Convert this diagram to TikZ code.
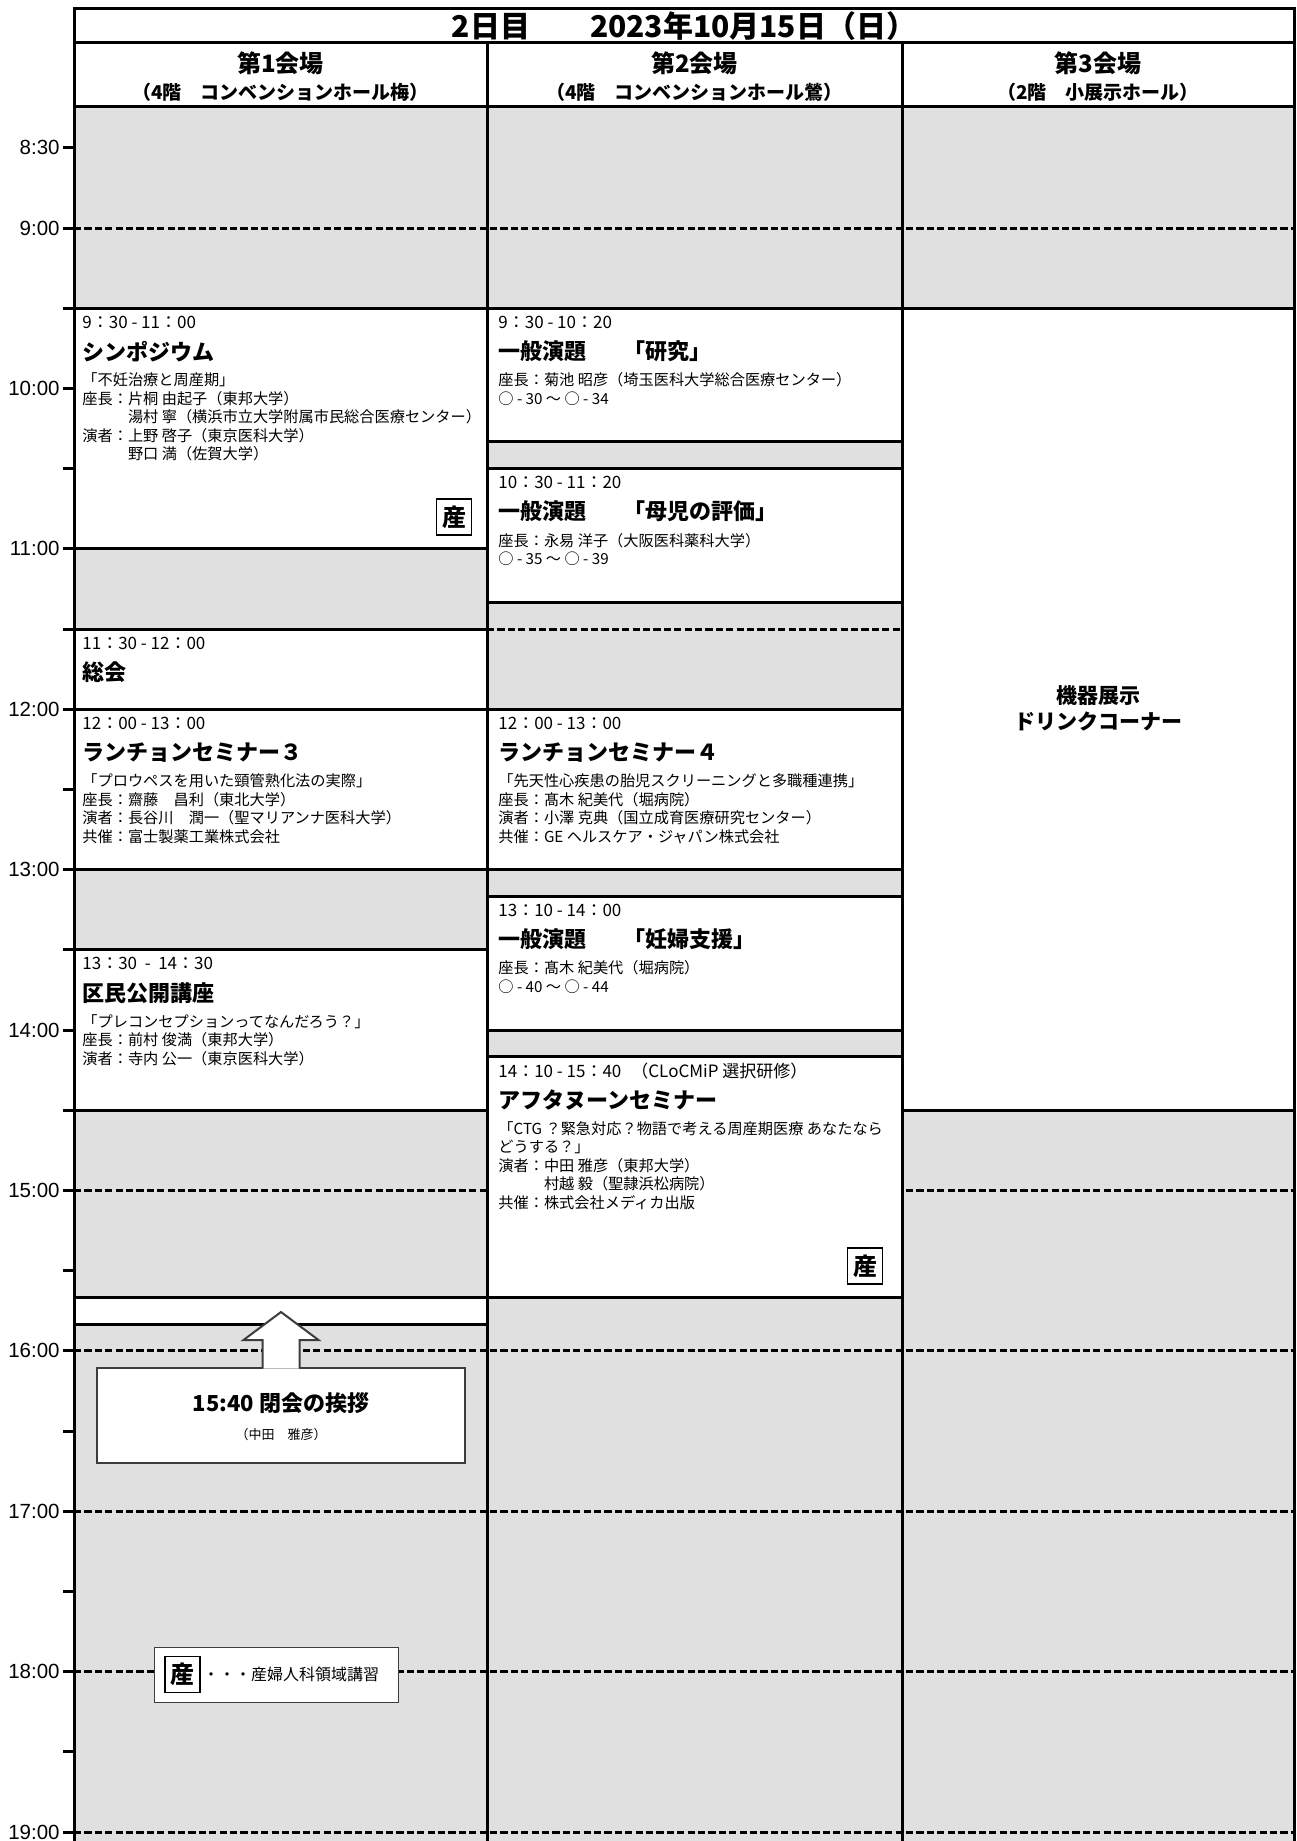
\documentclass[tikz,border=0pt]{standalone}
\usepackage{fontspec}
\setmainfont{Noto Sans CJK JP}
\newfontfamily\achsenfont{Liberation Sans}
\usetikzlibrary{positioning}

\definecolor{pause}{HTML}{E0E0E0}
\definecolor{rahmen}{HTML}{3C3C3C}

\tikzset{
  linie/.style={line width=1.5pt},
  raster/.style={line width=1.5pt, dash pattern=on 3.6pt off 1.6pt},
  block/.style={line width=1.5pt, fill=white},
  zeit/.style={anchor=west, inner sep=0pt, font=\fontsize{8.5}{10}\selectfont},
  titel/.style={anchor=west, inner sep=0pt, font=\fontsize{11}{13}\selectfont\bfseries},
  inhalt/.style={anchor=north west, inner sep=0pt, align=left, font=\fontsize{7.6}{9.3}\selectfont},
  san/.style={draw=black, line width=0.6pt, fill=white, minimum width=17.5pt, minimum height=18pt, inner sep=0pt, font=\fontsize{12}{12}\selectfont\bfseries},
  uhrzeit/.style={anchor=east, inner sep=0pt, font=\achsenfont\fontsize{10.25}{12}\selectfont},
  kopf/.style={inner sep=0pt, font=\fontsize{12}{14}\selectfont\bfseries},
  ort/.style={inner sep=0pt, font=\fontsize{9.5}{11}\selectfont\bfseries},
}

\begin{document}
\begin{tikzpicture}[x=0.5pt, y=-0.5pt,
  declare function={zt(\h)=67.7+(\h-8)*160.4;}]
  \path[use as bounding box, fill=white] (0,0) rectangle (1296,1841);
  \clip (0,0) rectangle (1296,1841);

  % Grauer Hintergrund und Rasterlinien
  \fill[pause] (74,107) rectangle (1294,1850);
  \draw[raster] (74,{zt(9)}) -- (1294,{zt(9)});
  \draw[raster] (487,{zt(11.5)}) -- (902,{zt(11.5)});
  \draw[raster] (74,{zt(15)}) -- (1294,{zt(15)});
  \draw[raster] (74,{zt(16)}) -- (1294,{zt(16)});
  \draw[raster] (74,{zt(17)}) -- (1294,{zt(17)});
  \draw[raster] (74,{zt(18)}) -- (1294,{zt(18)});
  \draw[raster] (74,{zt(19)}) -- (1294,{zt(19)});

  % Erster Saal
  \begin{scope}[shift={(74,0)}]
    \draw[block] (0,{zt(9.5)}) rectangle (413,{zt(11)});
    \draw[block] (0,{zt(11.5)}) rectangle (413,{zt(12)});
    \draw[block] (0,{zt(12)}) rectangle (413,{zt(13)});
    \draw[block] (0,{zt(13.5)}) rectangle (413,{zt(14.5)});
    \draw[block] (0,{zt(15.6667)}) rectangle (413,{zt(15.8333)});
    \node[zeit] (sympo-zeit) at (8,{zt(9.5)+14}) {9：30 - 11：00};
    \node[titel] (sympo) at (8,{zt(9.5)+43}) {シンポジウム};
    \node[inhalt] (sympo-text) at (8,{zt(9.5)+64}) {「不妊治療と周産期」\\座長：片桐 由起子（東邦大学）\\　　　湯村 寧（横浜市立大学附属市民総合医療センター）\\演者：上野 啓子（東京医科大学）\\　　　野口 満（佐賀大学）};
    \node[san] (sympo-san) at (380,{zt(11)-32}) {産};
    \node[zeit] (soukai-zeit) at (8,{zt(11.5)+14}) {11：30 - 12：00};
    \node[titel] (soukai) at (8,{zt(11.5)+43}) {総会};
    \node[zeit] (lunch3-zeit) at (8,{zt(12)+14}) {12：00 - 13：00};
    \node[titel] (lunch3) at (8,{zt(12)+43}) {ランチョンセミナー３};
    \node[inhalt] (lunch3-text) at (8,{zt(12)+64}) {「プロウペスを用いた頸管熟化法の実際」\\座長：齋藤　昌利（東北大学）\\演者：長谷川　潤一（聖マリアンナ医科大学）\\共催：富士製薬工業株式会社};
    \node[zeit] (kouza-zeit) at (8,{zt(13.5)+14}) {13：30~~-~~14：30};
    \node[titel] (kouza) at (8,{zt(13.5)+43}) {区民公開講座};
    \node[inhalt] (kouza-text) at (8,{zt(13.5)+64}) {「プレコンセプションってなんだろう？」\\座長：前村 俊満（東邦大学）\\演者：寺内 公一（東京医科大学）};
  \end{scope}

  % Zweiter Saal
  \begin{scope}[shift={(487,0)}]
    \draw[block] (0,{zt(9.5)}) rectangle (415,{zt(10.3333)});
    \draw[block] (0,{zt(10.5)}) rectangle (415,{zt(11.3333)});
    \draw[block] (0,{zt(12)}) rectangle (415,{zt(13)});
    \draw[block] (0,{zt(13.1667)}) rectangle (415,{zt(14)});
    \draw[block] (0,{zt(14.1667)}) rectangle (415,{zt(15.6667)});
    \node[zeit] (kenkyu-zeit) at (11,{zt(9.5)+14}) {9：30 - 10：20};
    \node[titel] (kenkyu) at (11,{zt(9.5)+43}) {一般演題\hspace{18.5pt}「研究」};
    \node[inhalt] (kenkyu-text) at (11,{zt(9.5)+64}) {座長：菊池 昭彦（埼玉医科大学総合医療センター）\\○ - 30 ～ ○ - 34};
    \node[zeit] (boji-zeit) at (11,{zt(10.5)+14}) {10：30 - 11：20};
    \node[titel] (boji) at (11,{zt(10.5)+43}) {一般演題\hspace{18.5pt}「母児の評価」};
    \node[inhalt] (boji-text) at (11,{zt(10.5)+64}) {座長：永易 洋子（大阪医科薬科大学）\\○ - 35 ～ ○ - 39};
    \node[zeit] (lunch4-zeit) at (11,{zt(12)+14}) {12：00 - 13：00};
    \node[titel] (lunch4) at (11,{zt(12)+43}) {ランチョンセミナー４};
    \node[inhalt] (lunch4-text) at (11,{zt(12)+64}) {「先天性心疾患の胎児スクリーニングと多職種連携」\\座長：髙木 紀美代（堀病院）\\演者：小澤 克典（国立成育医療研究センター）\\共催：GE ヘルスケア・ジャパン株式会社};
    \node[zeit] (ninpu-zeit) at (11,{zt(13.1667)+14}) {13：10 - 14：00};
    \node[titel] (ninpu) at (11,{zt(13.1667)+43}) {一般演題\hspace{18.5pt}「妊婦支援」};
    \node[inhalt] (ninpu-text) at (11,{zt(13.1667)+64}) {座長：髙木 紀美代（堀病院）\\○ - 40 ～ ○ - 44};
    \node[zeit] (after-zeit) at (11,{zt(14.1667)+14}) {14：10 - 15：40\hspace{5pt}（CLoCMiP 選択研修）};
    \node[titel] (after) at (11,{zt(14.1667)+43}) {アフタヌーンセミナー};
    \node[inhalt] (after-text) at (11,{zt(14.1667)+64}) {「CTG ？緊急対応？物語で考える周産期医療 あなたなら\\どうする？」\\演者：中田 雅彦（東邦大学）\\　　　村越 毅（聖隷浜松病院）\\共催：株式会社メディカ出版};
    \node[san] (after-san) at (378,{zt(15.6667)-31.5}) {産};
  \end{scope}

  % Dritter Saal
  \begin{scope}[shift={(902,0)}]
    \draw[block] (0,{zt(9.5)}) rectangle (392,{zt(14.5)});
    \node[align=center, font=\fontsize{10.5}{13}\selectfont\bfseries] (messe) at (196,708) {機器展示\\ドリンクコーナー};
  \end{scope}

  % Rahmen und Kopfzeilen
  \draw[linie] (74,1850) -- (74,9) -- (1294,9) -- (1294,1850);
  \draw[linie] (74,43) -- (1294,43);
  \draw[linie] (74,107) -- (1294,107);
  \draw[linie] (487,43) -- (487,1850);
  \draw[linie] (902,43) -- (902,1850);
  \node[inner sep=0pt, font=\fontsize{15}{18}\selectfont\bfseries] (tag) at (684,26) {2日目　　2023年10月15日（日）};
  \node[kopf] (saal1) at (280.5,63) {第1会場};
  \node[ort] (ort1) at (280.5,92) {（4階　コンベンションホール梅）};
  \node[kopf] (saal2) at (694.5,63) {第2会場};
  \node[ort] (ort2) at (694.5,92) {（4階　コンベンションホール鶯）};
  \node[kopf] (saal3) at (1098,63) {第3会場};
  \node[ort] (ort3) at (1098,92) {（2階　小展示ホール）};

  % Zeitachse
  \draw[linie]
    (63,{zt(8.5)}) -- (74,{zt(8.5)})   (63,{zt(9)}) -- (74,{zt(9)})
    (63,{zt(9.5)}) -- (74,{zt(9.5)})   (63,{zt(10)}) -- (74,{zt(10)})
    (63,{zt(10.5)}) -- (74,{zt(10.5)}) (63,{zt(11)}) -- (74,{zt(11)})
    (63,{zt(11.5)}) -- (74,{zt(11.5)}) (63,{zt(12)}) -- (74,{zt(12)})
    (63,{zt(12.5)}) -- (74,{zt(12.5)}) (63,{zt(13)}) -- (74,{zt(13)})
    (63,{zt(13.5)}) -- (74,{zt(13.5)}) (63,{zt(14)}) -- (74,{zt(14)})
    (63,{zt(14.5)}) -- (74,{zt(14.5)}) (63,{zt(15)}) -- (74,{zt(15)})
    (63,{zt(15.5)}) -- (74,{zt(15.5)}) (63,{zt(16)}) -- (74,{zt(16)})
    (63,{zt(16.5)}) -- (74,{zt(16.5)}) (63,{zt(17)}) -- (74,{zt(17)})
    (63,{zt(17.5)}) -- (74,{zt(17.5)}) (63,{zt(18)}) -- (74,{zt(18)})
    (63,{zt(18.5)}) -- (74,{zt(18.5)}) (63,{zt(19)}) -- (74,{zt(19)});
  \node[uhrzeit] (u0830) at (60,{zt(8.5)}) {8:30};
  \node[uhrzeit] (u0900) at (60,{zt(9)}) {9:00};
  \node[uhrzeit] (u1000) at (60,{zt(10)}) {10:00};
  \node[uhrzeit] (u1100) at (60,{zt(11)}) {11:00};
  \node[uhrzeit] (u1200) at (60,{zt(12)}) {12:00};
  \node[uhrzeit] (u1300) at (60,{zt(13)}) {13:00};
  \node[uhrzeit] (u1400) at (60,{zt(14)}) {14:00};
  \node[uhrzeit] (u1500) at (60,{zt(15)}) {15:00};
  \node[uhrzeit] (u1600) at (60,{zt(16)}) {16:00};
  \node[uhrzeit] (u1700) at (60,{zt(17)}) {17:00};
  \node[uhrzeit] (u1800) at (60,{zt(18)}) {18:00};
  \node[uhrzeit] (u1900) at (60,{zt(19)}) {19:00};

  % Schlussworte mit Pfeil
  \node[draw=rahmen, line width=1pt, fill=white, minimum width=184pt, minimum height=47.5pt, inner sep=0pt] (schluss) at (281,1415.5) {};
  \node[inner sep=0pt, font=\fontsize{11}{13}\selectfont\bfseries] (schluss-titel) at (281,1403) {15:40 閉会の挨拶};
  \node[inner sep=0pt, font=\fontsize{6.5}{8}\selectfont] (schluss-name) at (281,1435) {（中田　雅彦）};
  \draw[draw=rahmen, line width=1pt, fill=white] (schluss.north) ++(-18.5,1.5) -- ++(0,-28.5) -- ++(-19,0) -- ++(37.5,-28) -- ++(37.5,28) -- ++(-19,0) -- ++(0,28.5);

  % Legende
  \node[draw=rahmen, line width=0.5pt, fill=white, minimum width=122pt, minimum height=27.5pt, inner sep=0pt] (legende) at (276,1674.5) {};
  \node[san] (legende-san) at (182.5,1674.5) {産};
  \node[right=1pt of legende-san, inner sep=0pt, font=\fontsize{8}{10}\selectfont] (legende-text) {・・・産婦人科領域講習};
\end{tikzpicture}
\end{document}
